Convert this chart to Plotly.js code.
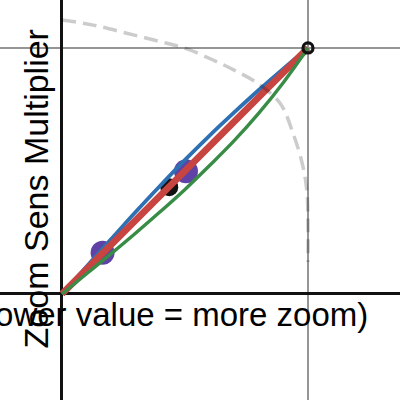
<!DOCTYPE html>
<html>
<head>
<meta charset="utf-8">
<script src="https://cdn.plot.ly/plotly-3.0.1.min.js"></script>
<style>html,body{margin:0;padding:0;background:#fff;}#chart{width:400px;height:400px;}</style>
</head>
<body>
<div id="chart"></div>
<script>
// Curves (x = zoom ratio, y = zoom sens multiplier)
const curveX = [0, 0.1, 0.2, 0.3, 0.4, 0.5, 0.6, 0.7, 0.8, 0.9, 1.0];
const blueY  = [0, 0.112, 0.223, 0.334, 0.441, 0.545, 0.644, 0.738, 0.829, 0.916, 1.0];
const redX   = [0, 0.25, 0.5, 0.75, 1.0];
const redY   = [0, 0.250, 0.500, 0.750, 1.0];
const greenY = [0, 0.082, 0.164, 0.248, 0.335, 0.425, 0.522, 0.623, 0.735, 0.860, 1.0];

// Dashed reference arc
const arcX = [0, 0.127, 0.263, 0.398, 0.508, 0.614, 0.700, 0.793, 0.886, 0.939, 0.980, 0.996, 1.0, 1.0];
const arcY = [1.114, 1.093, 1.060, 1.026, 0.996, 0.951, 0.910, 0.858, 0.776, 0.654, 0.516, 0.411, 0.272, 0.130];

// Points
const purpleX = [0.165, 0.504];
const purpleY = [0.168, 0.499];
const blackX = [0.436];
const blackY = [0.434];
const endX = [1.0];
const endY = [1.0];

const yTitle = "Zoom Sens Multiplier";
const xTitle = "Zoom Ratio (lower value = more zoom)";

const traces = [
  {x: purpleX, y: purpleY, mode: 'markers', marker: {size: 24, color: '#6042a6'}, hoverinfo: 'skip'},
  {x: blackX, y: blackY, mode: 'markers', marker: {size: 18, color: '#111'}, hoverinfo: 'skip'},
  {x: curveX, y: blueY, mode: 'lines', line: {color: '#2d70b3', width: 3.8, shape: 'spline'}, hoverinfo: 'skip'},
  {x: redX, y: redY, mode: 'lines', line: {color: '#c74440', width: 6.8, shape: 'spline'}, hoverinfo: 'skip'},
  {x: curveX, y: greenY, mode: 'lines', line: {color: '#388c46', width: 3.4, shape: 'spline'}, hoverinfo: 'skip'},
  {x: arcX, y: arcY, mode: 'lines', line: {color: 'rgba(0,0,0,0.2)', width: 3.5, dash: '14px,7px', shape: 'spline'}, hoverinfo: 'skip'},
  {x: endX, y: endY, mode: 'markers', marker: {size: 10, color: 'rgba(0,0,0,0)', line: {color: '#111', width: 3.2}}, hoverinfo: 'skip'}
];

const axisCommon = {
  showgrid: true, gridcolor: '#959595', gridwidth: 2,
  tickvals: [1], showticklabels: false, ticks: '',
  zeroline: true, zerolinecolor: '#111', zerolinewidth: 3,
  showline: false, fixedrange: true
};

const layout = {
  width: 400, height: 400,
  margin: {l: 0, r: 0, t: 0, b: 0},
  paper_bgcolor: '#fff', plot_bgcolor: '#fff',
  showlegend: false,
  font: {family: 'Liberation Sans, Arial, sans-serif', color: '#000'},
  xaxis: Object.assign({range: [-0.252, 1.374]}, axisCommon),
  yaxis: Object.assign({range: [-0.431, 1.195]}, axisCommon),
  annotations: [
    {text: xTitle, xref: 'paper', yref: 'paper', x: 0.926, y: 0.213, xanchor: 'right', yanchor: 'middle',
     showarrow: false, font: {size: 33, color: '#000'}},
    {text: yTitle, xref: 'paper', yref: 'paper', x: 0.09, y: 0.5265, xanchor: 'center', yanchor: 'middle',
     textangle: -90, showarrow: false, font: {size: 34, color: '#000'}}
  ]
};

Plotly.newPlot('chart', traces, layout, {staticPlot: true, displayModeBar: false});
</script>
</body>
</html>
